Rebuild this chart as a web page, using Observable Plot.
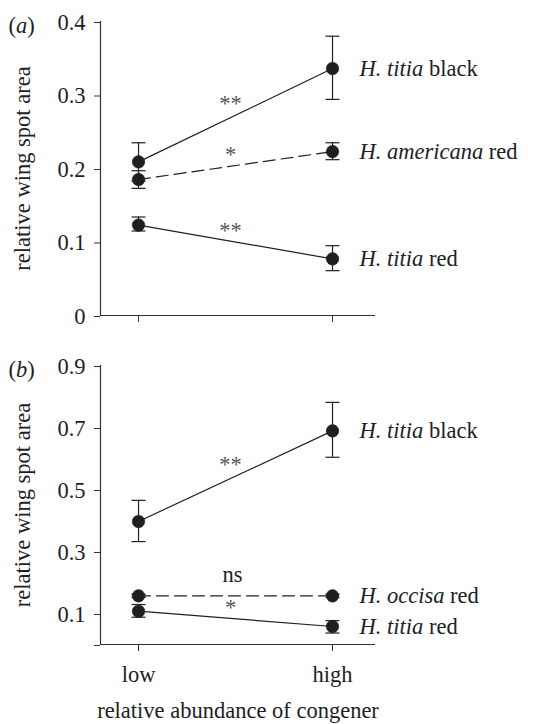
<!DOCTYPE html>
<html>
<head>
<meta charset="utf-8">
<script src="https://cdn.jsdelivr.net/npm/d3@7"></script>
<script src="https://cdn.jsdelivr.net/npm/@observablehq/plot@0.6"></script>
<style>
  body { margin: 0; background: #fff; }
  #chart { width: 551px; }
  #chart svg { display: block; overflow: visible; }
</style>
</head>
<body>
<div id="chart"></div>
<script>
// ---- data ----
const categories = ["low", "high"];

// panel (a)
const aSeries = ["H. titia black", "H. americana red", "H. titia red"];
const aFocal  = [true, false, true];           // H. titia (focal) vs congener
const aMean   = [[0.209, 0.336], [0.185, 0.223], [0.123, 0.077]];
const aLower  = [[0.183, 0.294], [0.173, 0.212], [0.115, 0.061]];
const aUpper  = [[0.235, 0.380], [0.197, 0.235], [0.134, 0.095]];
const aSig    = ["**", "*", "**"];
const aYTicks = [0, 0.1, 0.2, 0.3, 0.4];

// panel (b)
const bSeries = ["H. titia black", "H. occisa red", "H. titia red"];
const bFocal  = [true, false, true];
const bMean   = [[0.397, 0.689], [0.157, 0.157], [0.1075, 0.058]];
const bLower  = [[0.332, 0.604], [0.152, 0.152], [0.088, 0.037]];
const bUpper  = [[0.465, 0.781], [0.162, 0.162], [0.129, 0.077]];
const bSig    = ["**", "ns", "*"];
const bYTicks = [0, 0.1, 0.3, 0.5, 0.7, 0.9];

const yLabel = "relative wing spot area";
const xLabel = "relative abundance of congener";

// ---- drawing ----
const ink = "#221e1f";
const font = "'Liberation Serif', 'Times New Roman', serif";
const xDomain = [-0.196, 1.2216];
const capSymbol = {draw(ctx, size) { const r = Math.sqrt(size / Math.PI); ctx.moveTo(-r, 0); ctx.lineTo(r, 0); }};

function panel({tag, series, focal, mean, lower, upper, sig, yTicks, height, marginTop, marginBottom, showX, zeroLabel}) {
  const n = categories.length;
  const rows = series.flatMap((s, i) => categories.map((c, j) => ({
    series: s, x: j, y: mean[i][j], lo: lower[i][j], hi: upper[i][j], focal: focal[i]
  })));
  const mids = series.map((s, i) => ({x: (n - 1) / 2, y: d3.mean(mean[i]), sig: sig[i]}));
  const ends = series.map((s, i) => ({x: n - 1, y: mean[i][n - 1], text: s}));
  const yMax = d3.max(yTicks);
  const isStar = d => /\*/.test(d.sig);

  const plot = Plot.plot({
    width: 551,
    height,
    marginLeft: 100,
    marginRight: 176,
    marginTop,
    marginBottom,
    style: {fontFamily: font, fontSize: "22.5px", color: ink, background: "transparent", overflow: "visible"},
    x: {type: "linear", domain: xDomain},
    y: {domain: [0, yMax]},
    marks: [
      Plot.ruleY([0], {stroke: "#333", strokeWidth: 1.2}),
      Plot.ruleX([xDomain[0]], {y1: 0, y2: yMax, stroke: "#333", strokeWidth: 1.2}),
      Plot.axisY({ticks: yTicks, tickSize: 6, tickPadding: 9, dy: 1, label: null, stroke: "#333",
        tickFormat: d => d === 0 ? zeroLabel : d.toFixed(1)}),
      Plot.axisX({ticks: d3.range(n), tickSize: 7, tickPadding: 15, label: null, stroke: "#333",
        tickFormat: i => showX ? categories[i] : ""}),
      Plot.line(rows.filter(d => d.focal), {x: "x", y: "y", z: "series", stroke: ink, strokeWidth: 1.2}),
      Plot.line(rows.filter(d => !d.focal), {x: "x", y: "y", z: "series", stroke: ink, strokeWidth: 1.2, strokeDasharray: "12,6"}),
      Plot.ruleX(rows, {x: "x", y1: "lo", y2: "hi", stroke: ink, strokeWidth: 1.2}),
      Plot.dot(rows, {x: "x", y: "lo", symbol: capSymbol, r: 7, stroke: ink, strokeWidth: 1.2, fill: "none"}),
      Plot.dot(rows, {x: "x", y: "hi", symbol: capSymbol, r: 7, stroke: ink, strokeWidth: 1.2, fill: "none"}),
      Plot.dot(rows, {x: "x", y: "y", r: 6.3, fill: ink, stroke: ink, strokeWidth: 0.5}),
      Plot.text(mids.filter(isStar), {x: "x", y: "y", text: "sig", dx: -5, dy: -11, fill: "#555"}),
      Plot.text(mids.filter(d => !isStar(d)), {x: "x", y: "y", text: "sig", dx: -3, dy: -21, fill: ink}),
      Plot.text(ends, {x: "x", y: "y", text: "text", dx: 27, textAnchor: "start", fill: ink}),
      Plot.text([yLabel], {frameAnchor: "left", textAnchor: "middle", lineAnchor: "middle", rotate: -90, dx: -78, fill: ink}),
      Plot.text([tag], {frameAnchor: "top-left", dx: -92, dy: 4, textAnchor: "start", lineAnchor: "middle", fill: ink}),
      ...(showX ? [Plot.text([xLabel], {frameAnchor: "bottom", lineAnchor: "middle", dy: 66, fill: ink})] : [])
    ]
  });

  const svg = d3.select(plot);
  svg.selectAll("text").each(function() {
    const s = this.textContent;
    const t = d3.select(this);
    if (series.includes(s)) {
      const words = s.split(" ");
      const last = words.pop();
      t.text(null);
      t.append("tspan").attr("font-style", "italic").text(words.join(" "));
      t.append("tspan").text(" " + last);
    } else if (s === tag) {
      t.text(null);
      t.append("tspan").text(s.slice(0, 1));
      t.append("tspan").attr("font-style", "italic").text(s.slice(1, -1));
      t.append("tspan").text(s.slice(-1));
    }
  });
  return plot;
}

const chart = document.getElementById("chart");
chart.append(panel({
  tag: "(a)", series: aSeries, focal: aFocal, mean: aMean, lower: aLower, upper: aUpper, sig: aSig,
  yTicks: aYTicks, height: 340, marginTop: 21, marginBottom: 25, showX: false, zeroLabel: "0"
}));
chart.append(panel({
  tag: "(b)", series: bSeries, focal: bFocal, mean: bMean, lower: bLower, upper: bUpper, sig: bSig,
  yTicks: bYTicks, height: 384, marginTop: 25, marginBottom: 80, showX: true, zeroLabel: ""
}));
</script>
</body>
</html>
